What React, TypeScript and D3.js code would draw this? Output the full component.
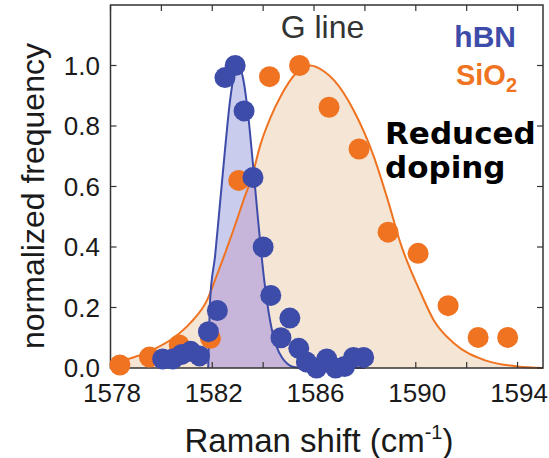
import React from "react";
import * as d3 from "d3";

// Histogram points (bin centre in cm^-1, normalized count)
const hbnShift = [
  1580.05, 1580.45, 1580.8, 1581.15, 1581.5, 1581.85, 1582.2, 1582.5, 1582.9,
  1583.25, 1583.6, 1584.0, 1584.3, 1584.7, 1585.05, 1585.4, 1585.7, 1586.1,
  1586.5, 1586.85, 1587.2, 1587.55, 1587.95,
];
const hbnFreq = [
  0.03, 0.03, 0.045, 0.055, 0.04, 0.12, 0.19, 0.96, 1.0, 0.85, 0.63, 0.4, 0.24,
  0.1, 0.165, 0.065, 0.02, 0.0, 0.03, 0.0, 0.005, 0.035, 0.035,
];

const sioShift = [
  1578.37, 1579.53, 1580.7, 1581.93, 1583.04, 1584.25, 1585.43, 1586.59,
  1587.77, 1588.91, 1590.09, 1591.27, 1592.45, 1593.61,
];
const sioFreq = [
  0.01, 0.036, 0.076, 0.098, 0.62, 0.963, 1.0, 0.862, 0.724, 0.449, 0.379,
  0.206, 0.101, 0.101,
];

// Fitted line shapes, sampled along the curve
const hbnFitShift = [
  1581.84, 1581.92, 1582.11, 1582.3, 1582.51, 1582.7, 1582.85, 1583.02,
  1583.2, 1583.4, 1583.56, 1583.8, 1584.04, 1584.28, 1584.54, 1584.74,
  1584.94, 1585.2, 1585.6, 1588.0,
];
const hbnFitFreq = [
  0.0, 0.23, 0.37, 0.54, 0.73, 0.885, 0.965, 1.0, 0.962, 0.845, 0.71, 0.49,
  0.292, 0.153, 0.068, 0.035, 0.015, 0.003, 0.0, 0.0,
];

const sioFitShift = [
  1578.0, 1578.8, 1579.6, 1580.4, 1581.15, 1581.8, 1582.15, 1582.55, 1582.95,
  1583.25, 1583.55, 1583.9, 1584.3, 1584.7, 1585.3, 1585.85, 1586.4, 1586.8,
  1587.55, 1588.35, 1588.9, 1589.4, 1590.2, 1590.7, 1591.5, 1592.7, 1594.0,
  1595.0,
];
const sioFitFreq = [
  0.016, 0.032, 0.058, 0.095, 0.15, 0.225, 0.3, 0.39, 0.485, 0.56, 0.63, 0.74,
  0.83, 0.9, 0.975, 1.0, 0.98, 0.95, 0.853, 0.699, 0.555, 0.412, 0.247, 0.159,
  0.082, 0.026, 0.005, 0.0,
];

const xMinorTicks = [1578, 1580, 1582, 1584, 1586, 1588, 1590, 1592, 1594];
const xTickLabels = [1578, 1582, 1586, 1590, 1594];
const yTicks = [0, 0.2, 0.4, 0.6, 0.8, 1.0];

const W = 549;
const H = 458;
const L = 110.5;
const R = 543;
const T = 5;
const B = 368;

const BLUE = "#3e4ca9";
const ORANGE = "#ef7320";
const PEACH = "#f4e5d5";
const LAVENDER = "#c9ccec";
const OVERLAP = "#c7b6da";
const FONT = "'Liberation Sans', Arial, Helvetica, sans-serif";

export default function App() {
  const x = d3.scaleLinear().domain([1578, 1595]).range([L, R]);
  const y = d3.scaleLinear().domain([0, 1.2]).range([B, T]);

  const hbnFit = hbnFitShift.map((s, i) => [s, hbnFitFreq[i]] as [number, number]);
  const sioFit = sioFitShift.map((s, i) => [s, sioFitFreq[i]] as [number, number]);

  const line = d3
    .line<[number, number]>()
    .x((d) => x(d[0]))
    .y((d) => y(d[1]))
    .curve(d3.curveMonotoneX);
  const area = d3
    .area<[number, number]>()
    .x((d) => x(d[0]))
    .y0(y(0))
    .y1((d) => y(d[1]))
    .curve(d3.curveMonotoneX);

  const tickLen = 6;
  const axisColor = "#333";
  const sioArea = area(sioFit) || "";
  const hbnArea = area(hbnFit) || "";

  return (
    <div style={{ position: "absolute", left: 0, top: 0 }}>
      <svg width={W} height={H} style={{ display: "block", background: "#fff" }}>
        <defs>
          <clipPath id="sio-area">
            <path d={sioArea} />
          </clipPath>
        </defs>
        {/* filled fit areas; where they overlap the tint turns purple */}
        <path d={sioArea} fill={PEACH} />
        <path d={hbnArea} fill={LAVENDER} />
        <path d={hbnArea} fill={OVERLAP} clipPath="url(#sio-area)" />
        {/* fit lines */}
        <path d={line(sioFit) || ""} fill="none" stroke={ORANGE} strokeWidth={2} />
        <path d={line(hbnFit) || ""} fill="none" stroke={BLUE} strokeWidth={2} />

        {/* frame */}
        <rect x={L} y={T} width={R - L} height={B - T} fill="none" stroke={axisColor} strokeWidth={1.5} />
        {xMinorTicks.map((t) => (
          <g key={"xt" + t}>
            <line x1={x(t)} x2={x(t)} y1={B} y2={B - tickLen} stroke={axisColor} strokeWidth={1.2} />
            <line x1={x(t)} x2={x(t)} y1={T} y2={T + tickLen} stroke={axisColor} strokeWidth={1.2} />
          </g>
        ))}
        {yTicks.map((t) => (
          <g key={"yt" + t}>
            <line x1={L} x2={L + tickLen} y1={y(t)} y2={y(t)} stroke={axisColor} strokeWidth={1.2} />
            <line x1={R} x2={R - tickLen} y1={y(t)} y2={y(t)} stroke={axisColor} strokeWidth={1.2} />
          </g>
        ))}

        {/* data points */}
        {sioShift.map((s, i) => (
          <circle key={"o" + i} cx={x(s)} cy={y(sioFreq[i])} r={10.5} fill={ORANGE} />
        ))}
        {hbnShift.map((s, i) => (
          <circle key={"b" + i} cx={x(s)} cy={y(hbnFreq[i])} r={10.5} fill={BLUE} />
        ))}

        {/* tick labels */}
        {xTickLabels.map((t) => (
          <text key={"xl" + t} x={x(t) + 1.5} y={402} textAnchor="middle" fontFamily={FONT} fontSize={26} fill="#1a1a1a">
            {t}
          </text>
        ))}
        {yTicks.map((t) => (
          <text key={"yl" + t} x={100} y={y(t) + 9} textAnchor="end" fontFamily={FONT} fontSize={26} fill="#1a1a1a">
            {d3.format(".1f")(t)}
          </text>
        ))}

        {/* axis titles */}
        <text x={319} y={452} textAnchor="middle" fontFamily={FONT} fontSize={33} fill="#1a1a1a">
          Raman shift (cm
          <tspan fontSize={20} dy={-13}>-1</tspan>
          <tspan dy={13}>)</tspan>
        </text>
        <text
          transform={`translate(44, 196) rotate(-90)`}
          textAnchor="middle"
          fontFamily={FONT}
          fontSize={32}
          fill="#1a1a1a"
        >
          normalized frequency
        </text>

        {/* annotations */}
        <text x={322.5} y={38} textAnchor="middle" fontFamily={FONT} fontSize={32} fill="#333">
          G line
        </text>
        <text x={516} y={46.5} textAnchor="end" fontFamily={FONT} fontSize={30} fontWeight="bold" fill={BLUE}>
          hBN
        </text>
        <text x={517} y={85} textAnchor="end" fontFamily={FONT} fontSize={29} fontWeight="bold" fill={ORANGE}>
          SiO
          <tspan fontSize={20} dy={7}>2</tspan>
        </text>
        <text x={385} y={143.5} fontFamily="'DejaVu Sans', Verdana, sans-serif" fontSize={31} fontWeight="bold" fill="#000">
          Reduced
        </text>
        <text x={385} y={177.5} fontFamily="'DejaVu Sans', Verdana, sans-serif" fontSize={31} fontWeight="bold" fill="#000">
          doping
        </text>
      </svg>
    </div>
  );
}
